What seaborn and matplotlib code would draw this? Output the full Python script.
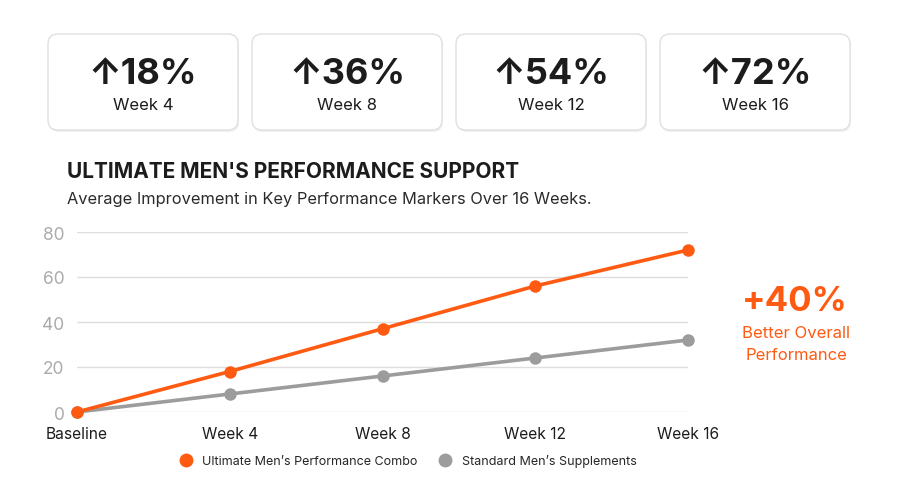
import matplotlib
matplotlib.use("Agg")
import matplotlib.pyplot as plt
import seaborn as sns
import pandas as pd
from matplotlib.patches import FancyBboxPatch
from matplotlib.lines import Line2D

# data
weeks = ["Baseline", "Week 4", "Week 8", "Week 12", "Week 16"]
ultimate = [0, 18, 37, 56, 72]
standard = [0, 8, 16, 24, 32]
series_names = ["Ultimate Men\u2019s Performance Combo", "Standard Men\u2019s Supplements"]
card_values = ["\u219118%", "\u219136%", "\u219154%", "\u219172%"]
card_labels = ["Week 4", "Week 8", "Week 12", "Week 16"]

ORANGE = "#FF5A12"
GREY = "#9C9C9C"

sns.set_theme(style="white")
plt.rcParams["font.family"] = ["Inter", "DejaVu Sans"]

df = pd.DataFrame({
    "week": weeks * 2,
    "pos": list(range(len(weeks))) * 2,
    "value": ultimate + standard,
    "series": [series_names[0]] * len(weeks) + [series_names[1]] * len(weeks),
})

fig = plt.figure(figsize=(9, 5.02), dpi=100)
W, H = 900, 502

# overlay in pixel coordinates for cards and text
bg = fig.add_axes([0, 0, 1, 1])
bg.set_xlim(0, W)
bg.set_ylim(H, 0)
bg.axis("off")

card_x = [48, 252, 456, 660]
for x0, val, lab in zip(card_x, card_values, card_labels):
    shadow = FancyBboxPatch((x0 + 1, 37), 190, 96, boxstyle="round,pad=0,rounding_size=10",
                            fc="#f0f0f0", ec="none", zorder=1)
    bg.add_patch(shadow)
    card = FancyBboxPatch((x0, 35), 190, 96, boxstyle="round,pad=0,rounding_size=10",
                          fc="white", ec="#e0e0e0", lw=1, zorder=2)
    bg.add_patch(card)
    bg.text(x0 + 95, 74, val, ha="center", va="center", fontsize=26, fontweight="bold",
            color="#1c1c1c", zorder=3)
    bg.text(x0 + 95, 106, lab, ha="center", va="center", fontsize=12, color="#1c1c1c", zorder=3)

bg.text(67, 172, "ULTIMATE MEN'S PERFORMANCE SUPPORT", ha="left", va="center",
        fontsize=15, fontweight="bold", color="#1c1c1c")
bg.text(67, 200, "Average Improvement in Key Performance Markers Over 16 Weeks.", ha="left",
        va="center", fontsize=11.8, color="#2a2a2a")

bg.text(795, 302, "+40%", ha="center", va="center", fontsize=25, fontweight="bold", color=ORANGE)
bg.text(796, 334, "Better Overall", ha="center", va="center", fontsize=12, color=ORANGE)
bg.text(796, 356, "Performance", ha="center", va="center", fontsize=12, color=ORANGE)

# main chart
ax = fig.add_axes([77 / W, 1 - 413 / H, (688 - 77) / W, (413 - 233) / H])
ax.patch.set_alpha(0)
sns.lineplot(data=df, x="pos", y="value", hue="series",
             palette={series_names[0]: ORANGE, series_names[1]: GREY},
             hue_order=series_names[::-1], marker="o", markersize=9, markeredgewidth=0,
             linewidth=2.6, ax=ax, legend=False, clip_on=False, zorder=3)
ax.set_xlim(0, 4)
ax.set_ylim(0, 80)
ax.set_yticks([0, 20, 40, 60, 80])
ax.set_xticks(range(len(weeks)))
ax.set_xticklabels(weeks)
ax.grid(axis="y", color="#dedede", lw=1)
ax.grid(axis="x", visible=False)
for s in ax.spines.values():
    s.set_visible(False)
ax.tick_params(axis="y", labelsize=12.5, labelcolor="#ababab", length=0, pad=9)
ax.tick_params(axis="x", labelsize=11.2, labelcolor="#1c1c1c", length=0, pad=10)
ax.set_xlabel("")
ax.set_ylabel("")

handles = [Line2D([], [], marker="o", ls="none", markersize=10, markerfacecolor=c, markeredgewidth=0)
           for c in (ORANGE, GREY)]
fig.legend(handles, series_names, loc="center", bbox_to_anchor=(405 / W, 1 - 462 / H), ncol=2,
           frameon=False, fontsize=9.0, handletextpad=0.3, columnspacing=1.2)

fig.savefig("out.png", dpi=100)
